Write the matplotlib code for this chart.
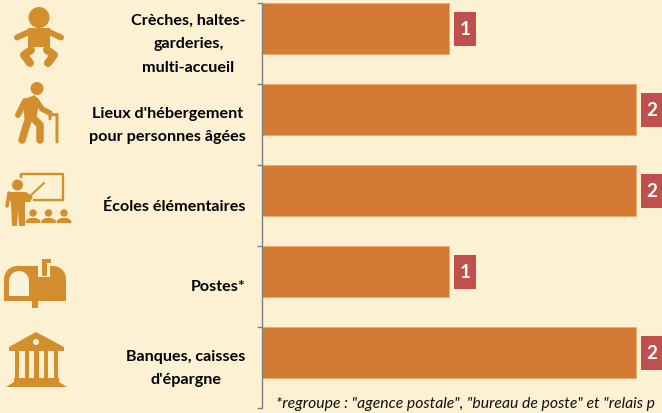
import numpy as np
import matplotlib
matplotlib.use('Agg')
import matplotlib.pyplot as plt
from matplotlib.patches import Circle, Polygon, Rectangle, Wedge

# Data
categories = ['Crèches, haltes-\ngarderies,\nmulti-accueil',
              "Lieux d'hébergement\npour personnes âgées",
              'Écoles élémentaires',
              'Postes*',
              "Banques, caisses\nd'épargne"]
values = [1, 2, 2, 1, 2]
# the reference cuts this line at its right edge
footnote = '*regroupe : "agence postale", "bureau de poste" et "relais p'

W, H = 662, 414
BG = '#FDF1D3'
BAR = '#D37A35'
ICON = '#D38F2E'
RED = '#C0504D'
plt.rcParams['font.family'] = ['Lato', 'DejaVu Sans']

fig = plt.figure(figsize=(W / 100, H / 100), dpi=100, facecolor=BG)

# main axes, pixel box 261.5..661.5 / 4..409
ax = fig.add_axes([261.5 / W, 1 - 409 / H, 400 / W, 405 / H], facecolor='none')
n = len(categories)
bar_h = 51 / 81
ax.barh(np.arange(n), values, height=bar_h, align='edge', color=BAR,
        edgecolor='#EFA868', linewidth=0.6)
ax.set_xlim(0, 400 / 187.2)
ax.set_ylim(n, 0)
for s in ['top', 'right', 'bottom']:
    ax.spines[s].set_visible(False)
ax.spines['left'].set_color('#808080')
ax.spines['left'].set_linewidth(1)
ax.xaxis.set_visible(False)
ax.set_yticks(np.arange(n + 1))
ax.set_yticklabels([])
ax.tick_params(axis='y', which='major', length=3.8, color='#808080', width=1)
ax.set_yticks(np.arange(n) + 0.5, minor=True)
ax.set_yticklabels(categories, minor=True, fontsize=11.6, fontweight='bold',
                   color='#000000', linespacing=1.84, multialignment='center')
ax.tick_params(axis='y', which='minor', length=0, pad=11.5)
for lab in ax.get_yticklabels(minor=True):
    lab.set_verticalalignment('center')

# overlay in pixels for value boxes, icons, footnote
ov = fig.add_axes([0, 0, 1, 1], facecolor='none')
ov.set_xlim(0, W)
ov.set_ylim(H, 0)
ov.axis('off')

fig.canvas.draw()
for i, v in enumerate(values):
    px, py = ax.transData.transform((v, i + bar_h / 2))
    py = H - py
    ov.add_patch(Rectangle((px + 5, py - 17), 22, 34, facecolor=RED, edgecolor='none', clip_on=False))
    ov.text(px + 16, py, str(v), color='white', fontsize=13.5, fontweight='bold',
            ha='center', va='center', clip_on=True)

ov.text(276, 404, footnote, fontsize=11.3, style='italic', color='#111111',
        ha='left', va='center')


def limb(pts, w):
    xs, ys = zip(*pts)
    ov.plot(xs, ys, color=ICON, linewidth=w * 0.72, solid_capstyle='round', solid_joinstyle='round')


# baby
ov.add_patch(Circle((39, 18.5), 10.5, color=ICON, lw=0))
ov.add_patch(Polygon([(28, 29), (50, 29), (50, 53), (28, 53)], color=ICON, lw=0))
limb([(31, 32), (17, 38.5)], 6)
limb([(47, 32), (61, 38.5)], 6)
limb([(31, 51), (24, 56), (30, 64)], 8)
limb([(47, 51), (54, 56), (48, 64)], 8)
ov.add_patch(Polygon([(32, 48), (47, 48), (44, 57), (35, 57)], color='#FDF3DC', lw=0))

# old man
ov.add_patch(Circle((37, 89.5), 6.5, color=ICON, lw=0))
limb([(25, 102), (18, 116)], 6)
ov.add_patch(Polygon([(22, 101), (35, 96), (39, 104), (36, 122), (25, 122)], color=ICON, lw=0))
limb([(36, 101), (42, 110), (50, 114)], 5.5)
limb([(29, 118), (22, 141)], 7.5)
limb([(32, 118), (40, 126), (40, 141)], 7.5)
limb([(50, 120), (50, 116), (57, 115.5), (57, 143)], 3)

# teacher at the board
ov.plot([20.5, 20.5, 62.5, 62.5, 34], [178, 175, 175, 201, 201], color=ICON, lw=1.7, solid_joinstyle='round')
limb([(28, 199), (44, 184)], 2)
ov.add_patch(Circle((17.5, 186), 5.5, color=ICON, lw=0))
ov.add_patch(Polygon([(8, 193), (26, 193), (33, 198), (30, 203), (25, 203), (25, 227), (19, 227),
                      (18, 212), (17, 227), (12, 227), (11, 205)], color=ICON, lw=0))
limb([(9, 194), (7, 207)], 3.5)
for cx in [33, 48.5, 64]:
    ov.add_patch(Circle((cx, 214), 3.7, color=ICON, lw=0))
    ov.add_patch(Polygon([(cx - 7.5, 224), (cx - 7, 221), (cx - 3, 219), (cx + 3, 219), (cx + 7, 221), (cx + 7.5, 224)], color=ICON, lw=0))

# mailbox
ov.add_patch(Circle((17, 280), 13, color=ICON, lw=0))
ov.add_patch(Circle((53, 280), 13, color=ICON, lw=0))
ov.add_patch(Rectangle((17, 267), 36, 13, color=ICON, lw=0))
ov.add_patch(Rectangle((4, 280), 62, 22, color=ICON, lw=0))
ov.add_patch(Wedge((19, 282), 10, 180, 360, color='#FDF3DC', lw=0))
ov.add_patch(Rectangle((9, 282), 20, 15, color='#FDF3DC', lw=0))
ov.add_patch(Rectangle((32, 302), 6, 7, color=ICON, lw=0))
ov.add_patch(Rectangle((38, 260), 12, 18, color=BG, lw=0))
ov.add_patch(Polygon([(42, 260), (51, 260), (51, 264), (47, 264), (47, 277), (42, 277)], color=ICON, lw=0))

# bank
ov.add_patch(Polygon([(9, 348), (36, 333), (64, 348), (64, 352), (9, 352)], color=ICON, lw=0))
ov.add_patch(Circle((36, 343), 3, color=BG, lw=0))
for cx in [17, 27, 36.5, 46, 56]:
    ov.add_patch(Rectangle((cx - 2.3, 352), 4.6, 28, color=ICON, lw=0))
ov.add_patch(Polygon([(14, 379), (59, 379), (59, 383), (67, 388), (6, 388), (14, 383)], color=ICON, lw=0))

fig.savefig('out.png', dpi=100, facecolor=BG)
